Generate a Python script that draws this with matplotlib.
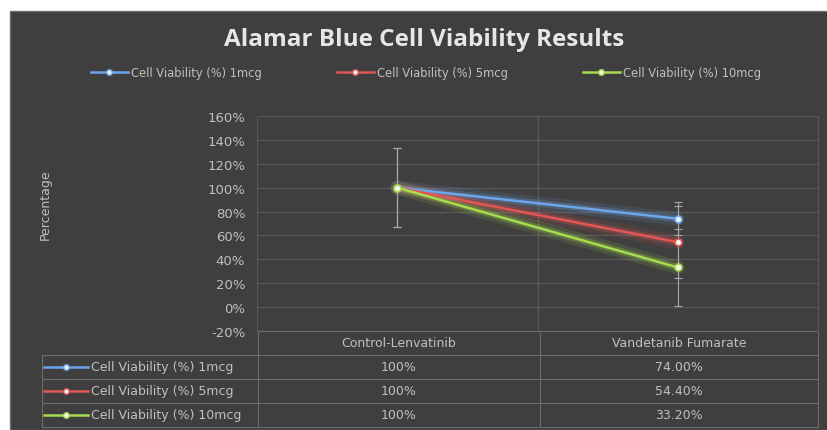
import matplotlib.pyplot as plt
from matplotlib.lines import Line2D
from matplotlib.patches import Rectangle
from matplotlib.ticker import FuncFormatter

# data
categories = ['Control-Lenvatinib', 'Vandetanib Fumarate']
series_names = ['Cell Viability (%) 1mcg', 'Cell Viability (%) 5mcg', 'Cell Viability (%) 10mcg']
viability = [
    [100, 74.00],
    [100, 54.40],
    [100, 33.20],
]
errors = [
    [33, 14],
    [33, 30],
    [33, 32],
]
table_labels = [
    ['100%', '74.00%'],
    ['100%', '54.40%'],
    ['100%', '33.20%'],
]
y_ticks = [-20, 0, 20, 40, 60, 80, 100, 120, 140, 160]

colors = ['#6ea6ea', '#e25656', '#a6dc4e']
bg = '#3f3f3f'
txt = '#c0c0c0'
grid_c = '#575757'
table_c = '#6c6c6c'

plt.rcParams['font.family'] = ['DejaVu Sans']

W, H = 828, 431
fig = plt.figure(figsize=(W / 100, H / 100), dpi=100)
fig.patch.set_facecolor('white')


def fx(px):
    return px / W


def fy(py):
    return 1 - py / H


# dark chart panel
fig.patches.append(Rectangle((fx(10), 0), 1 - fx(10), fy(12), transform=fig.transFigure,
                             facecolor=bg, edgecolor='#707070', lw=1, zorder=-5))

ax = fig.add_axes([fx(257), fy(332), fx(818) - fx(257), fy(117) - fy(332)])
ax.set_zorder(2)
ax.set_facecolor(bg)
ax.set_xlim(-0.5, 1.5)
ax.set_ylim(-20, 160)
ax.set_yticks(y_ticks)
ax.yaxis.set_major_formatter(FuncFormatter(lambda v, p: f'{v:.0f}%'))
ax.tick_params(axis='y', colors=txt, labelsize=9.5, length=0, pad=8.5)
ax.set_xticks([])
for y in y_ticks:
    ax.axhline(y, color=grid_c, lw=1, zorder=1)
ax.axvline(0.5, color=grid_c, lw=1, zorder=1)
for s in ['top', 'bottom']:
    ax.spines[s].set_visible(False)
for s in ['left', 'right']:
    ax.spines[s].set_color(grid_c)

x = list(range(len(categories)))
for vals, err in zip(viability, errors):
    ax.errorbar(x, vals, yerr=err, fmt='none', ecolor='#a8a8a8', elinewidth=0.8,
                capsize=3, capthick=0.8, zorder=2)
for vals, col in zip(viability, colors):
    # soft glow underneath
    ax.plot(x, vals, color=col, lw=10, alpha=0.12, solid_capstyle='round', zorder=3)
    ax.plot(x, vals, color=col, lw=5, alpha=0.25, solid_capstyle='round', zorder=3)
    ax.plot(x, vals, color=col, lw=1.8, marker='o', markersize=5,
            markerfacecolor='#f4f4f0', markeredgecolor=col, markeredgewidth=1.2, zorder=4)

fig.text(fx(45), fy(205), 'Percentage', rotation=90, color=txt, fontsize=9,
         ha='center', va='center')

fig.text(fx(424), fy(40), 'Alamar Blue Cell Viability Results', color='#e6e6e6',
         fontsize=17.5, fontweight='bold', ha='center', va='center', family='Open Sans')

# top legend
handles = [Line2D([], [], color=c, lw=1.8, marker='o', markersize=4,
                  markerfacecolor='#f4f4f0', markeredgecolor=c) for c in colors]
fig.legend(handles, series_names, loc='center', bbox_to_anchor=(fx(426), fy(74)),
           ncol=3, frameon=False, fontsize=8.3, labelcolor=txt, handlelength=3.2,
           columnspacing=6.5, handletextpad=0.3)

# data table under the axes
col_edges = [42, 258, 540, 818]
row_edges = [332, 356, 380, 404, 428]
line_kw = dict(transform=fig.transFigure, color=table_c, lw=0.8)
for i, ry in enumerate(row_edges):
    x0 = col_edges[0] if i > 0 else col_edges[1]
    fig.add_artist(Line2D([fx(x0), fx(col_edges[-1])], [fy(ry), fy(ry)], **line_kw))
for j, cx in enumerate(col_edges):
    y0 = row_edges[0] if j > 0 else row_edges[1]
    fig.add_artist(Line2D([fx(cx), fx(cx)], [fy(y0), fy(row_edges[-1])], **line_kw))

tsize = 9
for j, cat in enumerate(categories):
    cx = (col_edges[j + 1] + col_edges[j + 2]) / 2
    fig.text(fx(cx), fy((row_edges[0] + row_edges[1]) / 2), cat, color=txt,
             fontsize=tsize, ha='center', va='center')
for i, (name, col) in enumerate(zip(series_names, colors)):
    cy = (row_edges[i + 1] + row_edges[i + 2]) / 2
    fig.add_artist(Line2D([fx(44), fx(66), fx(88)], [fy(cy)] * 3, transform=fig.transFigure,
                          color=col, lw=1.8, marker='o', markersize=4, markevery=[1],
                          markerfacecolor='#f4f4f0', markeredgecolor=col))
    fig.text(fx(91), fy(cy), name, color=txt, fontsize=tsize, ha='left', va='center')
    for j, lab in enumerate(table_labels[i]):
        cx = (col_edges[j + 1] + col_edges[j + 2]) / 2
        fig.text(fx(cx), fy(cy), lab, color=txt, fontsize=tsize, ha='center', va='center')

fig.savefig('out.png', dpi=100, facecolor=fig.get_facecolor())
